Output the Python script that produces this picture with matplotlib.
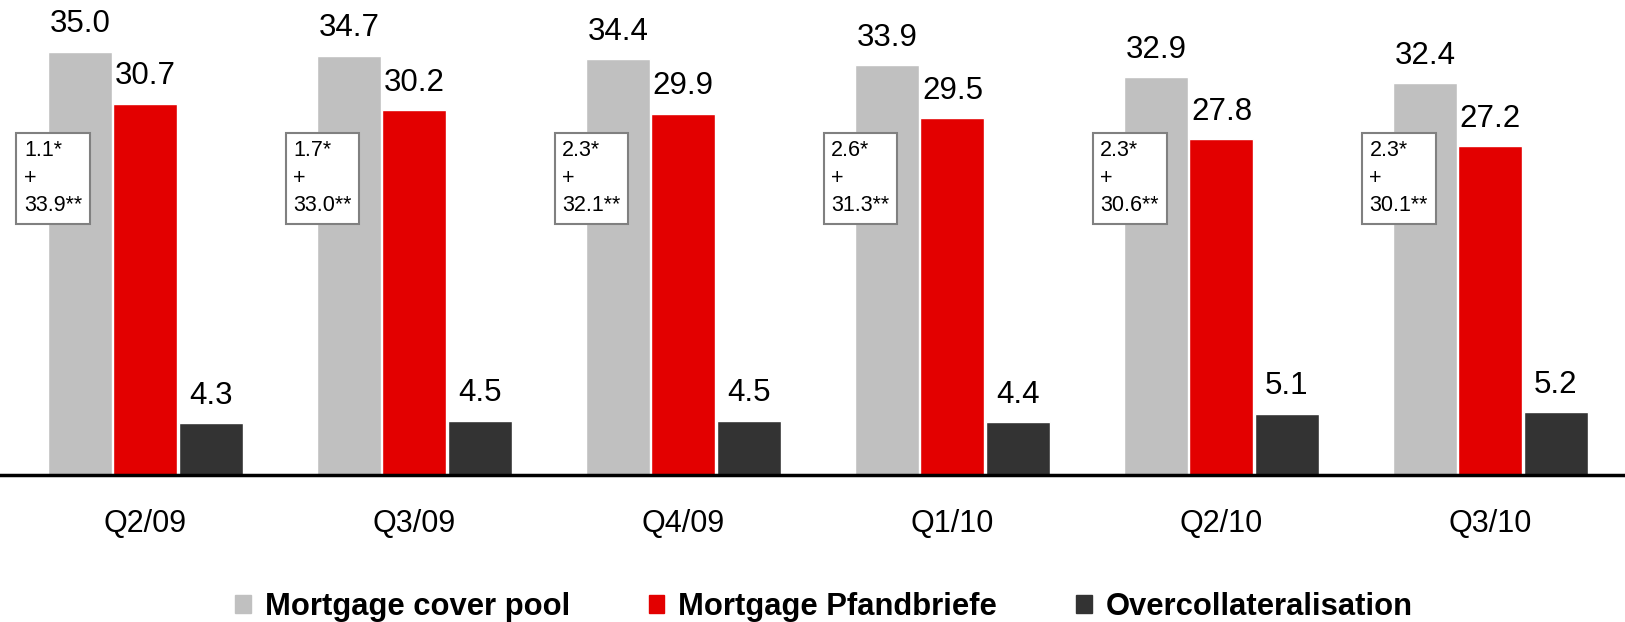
import numpy as np
import matplotlib
matplotlib.use('Agg')
import matplotlib.pyplot as plt
from matplotlib.patches import Patch

plt.rcParams['font.family'] = ['Liberation Sans', 'DejaVu Sans']

quarters = ['Q2/09', 'Q3/09', 'Q4/09', 'Q1/10', 'Q2/10', 'Q3/10']
cover_pool = [35.0, 34.7, 34.4, 33.9, 32.9, 32.4]
pfandbriefe = [30.7, 30.2, 29.9, 29.5, 27.8, 27.2]
overcoll = [4.3, 4.5, 4.5, 4.4, 5.1, 5.2]
box_a = ['1.1*', '1.7*', '2.3*', '2.6*', '2.3*', '2.3*']
box_b = ['33.9**', '33.0**', '32.1**', '31.3**', '30.6**', '30.1**']

series = ['Mortgage cover pool', 'Mortgage Pfandbriefe', 'Overcollateralisation']
colors = ['#C0C0C0', '#E30000', '#333333']

fig = plt.figure(figsize=(16.25, 6.22), dpi=100)
ax = fig.add_axes([0, 0.236, 1, 0.764])

x = np.arange(len(quarters))
w = 0.238
step = 0.243
for k, (vals, c) in enumerate(zip([cover_pool, pfandbriefe, overcoll], colors)):
    xs = x + (k - 1) * step
    ax.bar(xs, vals, width=w, color=c, edgecolor='white', linewidth=1)
    for xi, v in zip(xs, vals):
        ax.annotate(f'{v:.1f}', (xi, v), xytext=(0, 9), textcoords='offset points',
                    ha='center', va='bottom', fontsize=22.5)

# boxed annotations
for i in range(len(quarters)):
    ax.text(i - 0.45, 27.7, f'{box_a[i]}\n+\n{box_b[i]}', ha='left', va='top',
            fontsize=15.5, linespacing=1.4,
            bbox=dict(boxstyle='square,pad=0.36', fc='white', ec='#808080', lw=1.5))

ax.set_xlim(-0.54, 5.50)
ax.set_ylim(0, 39.3)
ax.set_xticks(x)
ax.set_xticklabels(quarters, fontsize=22)
ax.tick_params(axis='x', length=0, pad=24)
ax.set_yticks([])
for s in ['top', 'right', 'left']:
    ax.spines[s].set_visible(False)
ax.spines['bottom'].set_linewidth(2.5)

handles = [Patch(color=c, label=s) for c, s in zip(colors, series)]
fig.legend(handles=handles, loc='lower center', bbox_to_anchor=(0.507, -0.045), ncol=3,
           frameon=False, prop=dict(size=22.3, weight='bold'), handlelength=0.5,
           handleheight=0.5, handletextpad=0.45, columnspacing=2.55)

fig.savefig('out.png', dpi=100)
